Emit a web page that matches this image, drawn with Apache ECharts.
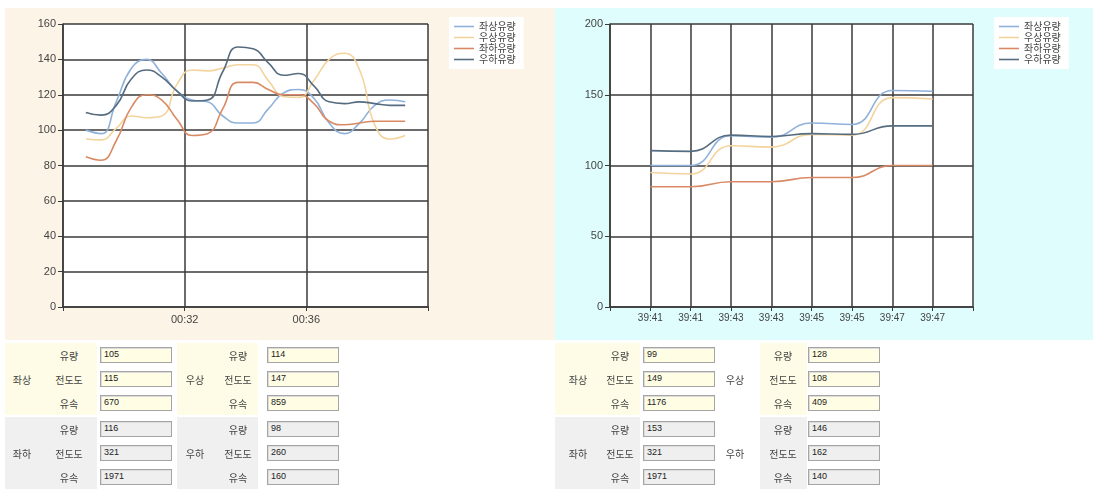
<!DOCTYPE html>
<html>
<head>
<meta charset="utf-8">
<script src="https://cdn.jsdelivr.net/npm/echarts@6/dist/echarts.min.js"></script>
<style>
  html, body { margin: 0; padding: 0; background: #fff; }
  #wrap { position: relative; width: 1093px; height: 489px; overflow: hidden; }
  #chart { position: absolute; left: 0; top: 0; width: 1093px; height: 489px; }
  #tables { position: absolute; left: 0; top: 0; width: 1093px; height: 489px; pointer-events: none; }
  .band { position: absolute; }
  .lbl { position: absolute; font: 10px "Noto Sans CJK KR", sans-serif; color: #444;
         transform: translate(-50%, -50%); white-space: nowrap; }
  .box { position: absolute; box-sizing: border-box; width: 72px; height: 16px;
         border: 1px solid #a4a4a4; box-shadow: inset 1px 1px 0 #dcdcdc;
         font: 9px "Liberation Sans", sans-serif; color: #222; padding: 1px 3px; line-height: 11px; }
</style>
</head>
<body>
<div id="wrap">
  <div id="chart"></div>
  <div id="tables"></div>
</div>
<script>
// Series names shared by both charts
const seriesNames = ['좌상유량', '우상유량', '좌하유량', '우하유량'];

// Left chart: sample times in minutes (30 s samples)
const leftTimes = [28.75, 29.25, 29.75, 30.25, 30.75, 31.25, 31.75, 32.25, 32.75, 33.25, 33.75,
                   34.25, 34.75, 35.25, 35.75, 36.25, 36.75, 37.25, 37.75, 38.25, 38.75, 39.25];
const leftTickLabels = ['', '00:32', '00:36', ''];
const leftUpperL = [100, 98, 116, 135, 140, 132, 122, 117, 116, 108, 104, 104, 112, 121, 123, 118, 104, 98, 104, 114, 117, 116];
const leftUpperR = [95, 94.5, 101, 108, 107, 108, 126, 134, 133.5, 135, 137, 137, 128, 119, 118.5, 128, 140, 143.5, 134, 103, 95, 97];
const leftLowerL = [85, 83, 94, 113, 120, 117, 106, 97, 98, 112, 127, 127, 123, 120, 120, 115, 105, 103, 104, 105, 105, 105];
const leftLowerR = [110, 108.5, 114, 129, 134, 130, 122, 116.5, 117, 133, 147, 146, 138, 131, 132, 125, 116, 115, 116, 115, 114, 114];

// Right chart: one sample per tick label
const rightTimeLabels = ['39:41', '39:41', '39:43', '39:43', '39:45', '39:45', '39:47', '39:47'];
const rightUpperL = [100, 100, 121, 120, 130, 129, 153, 152.5];
const rightUpperR = [95, 94, 114, 113, 122, 121.5, 148, 147];
const rightLowerL = [85, 85, 88.5, 88.5, 91.5, 91.5, 100, 100];
const rightLowerR = [110.5, 110, 121.5, 120.5, 122.5, 122, 128, 128];

// Readings shown under each chart: [유량, 전도도, 유속]
const subLabels = ['유량', '전도도', '유속'];
const groupNames = ['좌상', '우상', '좌하', '우하'];
const leftReadings = [[105, 115, 670], [114, 147, 859], [116, 321, 1971], [98, 260, 160]];
const rightReadings = [[99, 149, 1176], [128, 108, 409], [153, 321, 1971], [146, 162, 140]];

const colors = ['#8fb1da', '#f3d49e', '#d98a64', '#566c80'];
const gridColor = '#3a3a3a';

function lineSeries(name, idx, xs, ys, axisIdx) {
  return {
    name: name, type: 'line', smooth: 0.5, symbol: 'none', showSymbol: false,
    xAxisIndex: axisIdx, yAxisIndex: axisIdx,
    lineStyle: { color: colors[idx], width: 1.6 },
    itemStyle: { color: colors[idx] },
    data: ys.map((v, i) => [xs[i], v])
  };
}

const rightXs = rightTimeLabels.map((_, i) => i + 1);

const axisLabelStyle = { color: '#444', fontFamily: 'Liberation Sans', fontSize: 11 };

function yAxis(gridIndex, max, interval) {
  return {
    type: 'value', gridIndex: gridIndex, min: 0, max: max, interval: interval,
    axisLine: { show: true, lineStyle: { color: gridColor, width: 1.5 } },
    axisTick: { show: true, length: 5, lineStyle: { color: gridColor } },
    axisLabel: Object.assign({ margin: 7 }, axisLabelStyle),
    splitLine: { show: true, lineStyle: { color: gridColor, width: 1.5 } }
  };
}

// Legend swatches are plain thin bars (line samples)
function legend(left) {
  return {
    data: seriesNames, orient: 'vertical', left: left, top: 17,
    backgroundColor: '#fff', padding: [4, 8, 4, 5],
    icon: 'rect', itemWidth: 20, itemHeight: 1.6, itemGap: 0,
    textStyle: { fontFamily: 'Noto Sans CJK KR', fontSize: 10, lineHeight: 11, color: '#444', padding: [0, 0, 0, 0] },
    selectedMode: false
  };
}

const chart = echarts.init(document.getElementById('chart'), null, { renderer: 'canvas' });
chart.setOption({
  animation: false,
  backgroundColor: '#fff',
  graphic: [
    { type: 'rect', z: -10, shape: { x: 5, y: 8, width: 550, height: 332 }, style: { fill: '#fcf4e6' } },
    { type: 'rect', z: -10, shape: { x: 555, y: 8, width: 538, height: 332 }, style: { fill: '#e0fdfd' } }
  ],
  grid: [
    { left: 63, top: 24, width: 365, height: 283, show: true, backgroundColor: '#fff', borderWidth: 0 },
    { left: 610, top: 24, width: 363, height: 283, show: true, backgroundColor: '#fff', borderWidth: 0 }
  ],
  legend: [legend(449), legend(994)],
  xAxis: [
    {
      type: 'value', gridIndex: 0, min: 28, max: 40, interval: 4,
      axisLine: { show: true, onZero: false, lineStyle: { color: gridColor, width: 1.5 } },
      axisTick: { show: true, length: 4, lineStyle: { color: gridColor } },
      axisLabel: Object.assign({ margin: 7, showMinLabel: true, showMaxLabel: true,
        formatter: (v, i) => leftTickLabels[i] || '' }, axisLabelStyle),
      splitLine: { show: true, lineStyle: { color: gridColor, width: 1.5 } }
    },
    {
      type: 'value', gridIndex: 1, min: 0, max: 9, interval: 1,
      axisLine: { show: true, onZero: false, lineStyle: { color: gridColor, width: 1.5 } },
      axisTick: { show: true, length: 4, lineStyle: { color: gridColor } },
      axisLabel: Object.assign({}, axisLabelStyle, { margin: 6, fontSize: 10,
        formatter: (v) => rightTimeLabels[v - 1] || '' }),
      splitLine: { show: true, lineStyle: { color: gridColor, width: 1.5 } }
    }
  ],
  yAxis: [yAxis(0, 160, 20), yAxis(1, 200, 50)],
  series: [
    lineSeries(seriesNames[0], 0, leftTimes, leftUpperL, 0),
    lineSeries(seriesNames[1], 1, leftTimes, leftUpperR, 0),
    lineSeries(seriesNames[2], 2, leftTimes, leftLowerL, 0),
    lineSeries(seriesNames[3], 3, leftTimes, leftLowerR, 0),
    lineSeries(seriesNames[0], 0, rightXs, rightUpperL, 1),
    lineSeries(seriesNames[1], 1, rightXs, rightUpperR, 1),
    lineSeries(seriesNames[2], 2, rightXs, rightLowerL, 1),
    lineSeries(seriesNames[3], 3, rightXs, rightLowerR, 1)
  ]
});

// Reading panels below each chart
const tables = document.getElementById('tables');
function el(cls, css, text) {
  const d = document.createElement('div');
  d.className = cls;
  Object.assign(d.style, css);
  if (text !== undefined) d.textContent = text;
  tables.appendChild(d);
  return d;
}
const bandTops = [343, 417];
const bandColors = ['#fefce6', '#f0f0f0'];
const boxColors = ['#fffee4', '#efefef'];
function drawReadings(readings, cols) {
  // cols[c] describes the left/right column; rows: upper (yellow) and lower (gray)
  for (let r = 0; r < 2; r++) {
    for (let c = 0; c < 2; c++) {
      const col = cols[c];
      const g = r * 2 + c;
      const top = bandTops[r];
      el('band', { left: col.bandX0 + 'px', top: top + 'px', width: (col.bandX1 - col.bandX0) + 'px',
                   height: '72px', background: bandColors[r] });
      el('lbl', { left: col.labelX + 'px', top: (top + 36) + 'px' }, groupNames[g]);
      for (let k = 0; k < 3; k++) {
        const by = top + 4 + k * 24;
        el('lbl', { left: col.subX + 'px', top: (by + 8) + 'px' }, subLabels[k]);
        el('box', { left: col.boxX + 'px', top: by + 'px', background: boxColors[r] }, String(readings[g][k]));
      }
    }
  }
}
drawReadings(leftReadings, [
  { bandX0: 5, bandX1: 97, labelX: 22, subX: 69, boxX: 100 },
  { bandX0: 177, bandX1: 258, labelX: 195, subX: 238, boxX: 267 }
]);
drawReadings(rightReadings, [
  { bandX0: 555, bandX1: 640, labelX: 578, subX: 620, boxX: 643 },
  { bandX0: 760, bandX1: 807, labelX: 735, subX: 783, boxX: 808 }
]);
</script>
</body>
</html>
